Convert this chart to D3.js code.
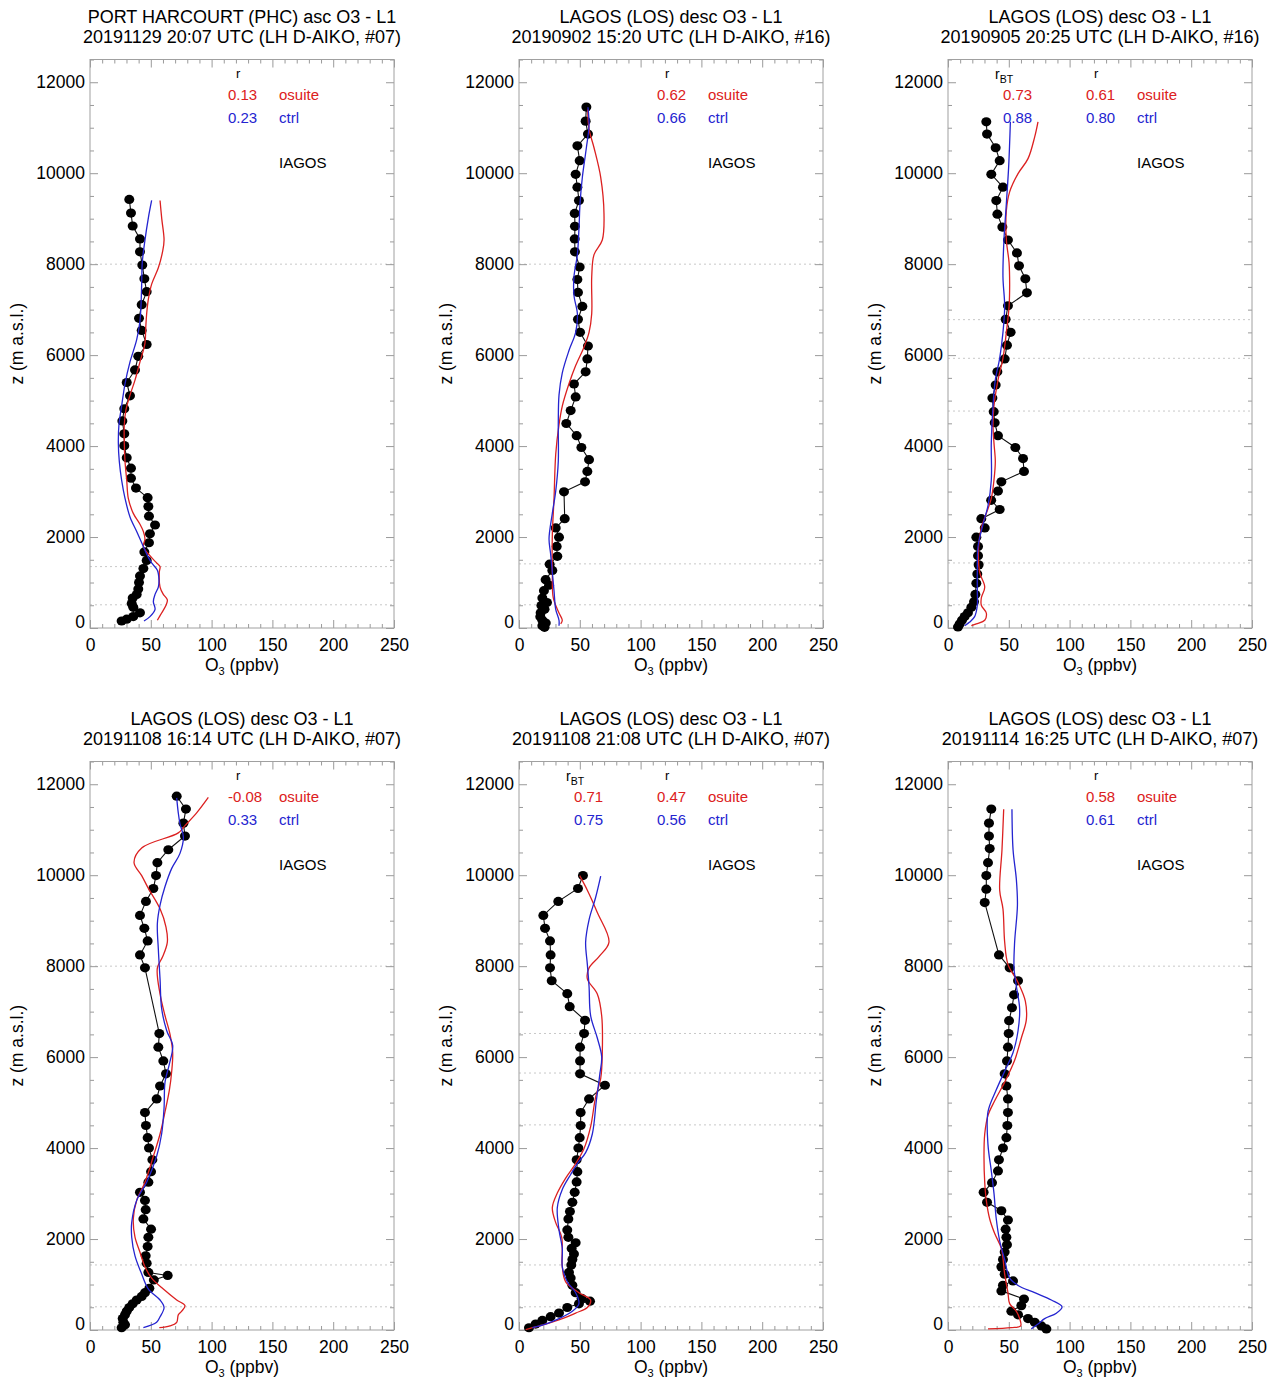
<!DOCTYPE html>
<html>
<head>
<meta charset="utf-8">
<script src="https://cdn.jsdelivr.net/npm/d3@7"></script>
<style>
  html, body { margin: 0; padding: 0; background: #fff; }
  svg { display: block; font-family: "Liberation Sans", Arial, Helvetica, sans-serif; }
</style>
</head>
<body>
<svg id="chart" width="1276" height="1381"></svg>
<script>
// ---- Profile data: [O3 (ppbv), altitude (m a.s.l.)] ----

// Port Harcourt, 2019-11-29 20:07 UTC
const p1Obs = [[32.3,9424],[33.7,9124],[35.1,8839],[41.1,8555],[41.1,8271],[43.0,7979],[44.7,7679],[46.6,7395],[42.5,7110],[40.3,6810],[42.5,6542],[46.6,6234],[39.7,5974],[37.0,5674],[30.2,5398],[32.9,5106],[28.2,4821],[26.6,4554],[28.2,4270],[28.2,4010],[30.2,3742],[33.7,3515],[33.7,3295],[37.8,3076],[47.4,2865],[48.0,2670],[48.5,2459],[53.5,2265],[49.3,2070],[48.5,1875],[44.7,1672],[46.6,1485],[43.9,1307],[41.1,1144],[40.3,998],[39.7,860],[38.4,739],[35.1,657],[34.3,536],[35.6,455],[41.1,333],[35.6,252],[30.2,195],[26.0,154]];
const p1Osuite = [[55.4,170],[58.9,330],[62.5,500],[63.6,620],[60.3,740],[57.6,900],[57.0,1230],[57.6,1350],[54.8,1430],[49.3,1590],[43.9,1790],[45.2,1960],[43.9,2120],[41.1,2280],[35.6,2520],[31.5,2850],[30.2,3250],[28.8,3660],[28.2,4070],[28.2,4470],[29.6,4800],[32.9,5120],[37.0,5450],[41.1,5850],[45.2,6260],[45.8,6580],[46.6,6910],[48.0,7230],[50.7,7560],[56.2,7920],[59.8,8290],[60.9,8530],[59.0,9000],[57.6,9400]];
const p1Ctrl = [[44.4,155],[49.3,250],[53.5,410],[52.1,580],[53.5,740],[56.2,900],[56.7,1060],[55.4,1270],[50.7,1430],[46.6,1630],[42.5,1875],[38.4,2120],[32.9,2440],[28.8,2850],[26.0,3250],[24.1,3660],[23.3,4070],[23.8,4470],[26.0,4880],[28.8,5370],[32.9,5850],[38.4,6340],[41.1,6750],[41.9,7070],[42.5,7560],[43.0,8040],[45.2,8530],[48.0,9020],[50.7,9400]];

// Lagos, 2019-09-02 15:20 UTC
const p2Obs = [[55.4,11453],[54.8,11145],[56.7,10861],[48.0,10601],[49.9,10276],[46.6,9976],[48.0,9692],[49.3,9399],[45.8,9115],[46.0,8831],[45.8,8555],[46.0,8271],[49.9,7938],[48.0,7662],[48.5,7378],[52.1,7070],[48.5,6786],[50.2,6502],[56.7,6201],[56.2,5917],[54.8,5633],[45.2,5365],[46.6,5081],[42.5,4781],[38.9,4497],[47.4,4229],[51.3,3969],[57.6,3701],[56.2,3442],[54.3,3214],[37.0,2995],[37.6,2403],[30.2,2200],[32.9,1997],[31.0,1794],[31.5,1575],[25.2,1404],[27.4,1266],[21.9,1063],[24.7,942],[20.5,820],[19.2,657],[23.0,560],[18.4,495],[21.0,410],[17.8,333],[17.5,250],[19.2,170],[22.0,110],[19.2,50],[21.0,15]];
const p2Osuite = [[34.3,90],[35.6,170],[32.9,330],[28.2,660],[27.4,1230],[27.4,2040],[28.8,2850],[30.2,3820],[32.9,4470],[35.6,4880],[41.1,5370],[46.6,5770],[53.5,6180],[57.6,6500],[59.8,6910],[59.8,7720],[61.7,8210],[68.5,8530],[69.9,9100],[67.2,9910],[61.7,10560],[57.6,10970],[56.5,11400]];
const p2Ctrl = [[32.9,50],[32.9,170],[30.2,410],[28.8,820],[27.4,1230],[26.0,1630],[24.7,1960],[27.4,2520],[30.2,3010],[32.3,3660],[32.3,4470],[32.9,5120],[35.6,5610],[41.1,6100],[46.6,6500],[48.0,6910],[45.2,7310],[45.2,7720],[48.0,8210],[49.3,8770],[50.2,9340],[52.1,9910],[55.4,10560],[57.6,11050],[56.7,11450]];

// Lagos, 2019-09-05 20:25 UTC
const p3Obs = [[31.5,11129],[32.1,10861],[39.2,10560],[42.5,10276],[35.6,9976],[45.2,9692],[39.7,9399],[40.6,9099],[44.7,8815],[49.3,8531],[56.7,8247],[58.4,7963],[63.6,7679],[64.9,7370],[49.3,7086],[47.4,6786],[51.5,6502],[48.5,6218],[46.6,5917],[40.6,5633],[39.2,5341],[36.5,5057],[37.6,4757],[38.4,4513],[41.1,4229],[55.4,3969],[61.7,3726],[62.5,3442],[43.9,3214],[41.1,3011],[35.5,2808],[42.5,2606],[27.4,2403],[30.2,2200],[23.3,1997],[24.7,1794],[24.7,1591],[25.2,1388],[24.1,1185],[23.3,982],[22.5,739],[21.4,576],[19.2,455],[16.4,333],[13.7,252],[11.5,170],[9.6,89],[8.2,24]];
const p3Osuite = [[19.2,50],[23.3,90],[30.2,170],[31.5,330],[27.4,500],[27.4,660],[30.2,900],[26.0,1230],[25.2,1790],[27.4,2200],[31.5,2520],[35.6,2850],[37.8,3250],[38.9,3660],[37.8,4070],[37.0,4470],[37.8,4880],[41.1,5450],[45.2,5930],[48.0,6500],[50.2,7060],[50.7,7550],[50.2,8040],[48.0,8530],[48.0,9180],[50.7,9590],[57.6,9990],[65.8,10320],[71.3,10800],[74.0,11130]];
const p3Ctrl = [[13.7,50],[17.8,130],[21.9,250],[24.1,500],[24.1,820],[24.1,1230],[24.7,1790],[28.8,2280],[32.9,2690],[35.6,3250],[35.6,4070],[37.0,4880],[38.9,5450],[42.5,5930],[45.2,6500],[46.6,7070],[45.2,7720],[46.0,8530],[48.0,9340],[49.9,10150],[51.3,11130]];

// Lagos, 2019-11-08 16:14 UTC
const p4Obs = [[71.3,11737],[78.9,11453],[76.8,11145],[78.1,10861],[64.4,10560],[55.4,10276],[54.3,9992],[52.1,9708],[46.0,9424],[41.1,9115],[44.7,8831],[47.4,8555],[41.1,8247],[45.2,7963],[57.0,6518],[56.2,6218],[60.3,5917],[62.5,5633],[57.6,5365],[54.8,5081],[45.2,4781],[46.0,4497],[47.4,4229],[48.5,4002],[51.3,3742],[50.2,3482],[48.0,3250],[41.1,3028],[45.2,2849],[45.8,2646],[43.9,2443],[50.2,2216],[48.0,2037],[47.4,1834],[45.8,1632],[46.6,1469],[48.0,1266],[63.9,1200],[52.5,1100],[48.8,917],[45.2,820],[42.5,739],[38.4,657],[35.1,576],[32.3,495],[30.2,414],[28.8,333],[26.9,252],[27.4,170],[28.8,114],[26.0,49]];
const p4Osuite = [[57.0,50],[65.8,90],[71.3,170],[72.6,333],[75.4,414],[78.1,536],[71.3,660],[60.3,900],[50.7,1140],[45.2,1390],[41.1,1710],[37.0,2040],[35.6,2440],[38.4,2850],[45.2,3250],[52.1,3820],[57.6,4310],[61.7,4800],[65.3,5280],[67.2,5690],[68.0,6100],[65.8,6500],[61.7,6910],[57.6,7390],[55.4,7960],[59.8,8210],[63.6,8530],[62.5,8860],[57.6,9260],[48.0,9710],[42.5,9990],[36.2,10280],[42.5,10600],[72.6,10930],[78.1,11090],[87.7,11370],[97.3,11710]];
const p4Ctrl = [[43.9,50],[54.8,170],[57.6,290],[60.9,495],[57.6,660],[48.0,900],[42.5,1230],[37.0,1630],[34.3,2040],[34.3,2360],[38.4,2850],[46.6,3250],[54.8,3820],[58.9,4310],[60.9,4880],[61.7,5450],[65.3,5850],[68.0,6260],[63.1,6580],[58.9,7070],[57.6,7720],[56.2,8370],[55.4,8940],[57.6,9340],[61.7,9750],[67.2,10150],[74.0,10480],[76.8,10840],[74.0,11130],[72.6,11370],[71.3,11700]];

// Lagos, 2019-11-08 21:08 UTC
const p5Obs = [[52.6,9992],[48.5,9708],[32.3,9424],[20.0,9115],[21.4,8831],[25.5,8555],[26.0,8247],[25.5,7963],[26.9,7679],[39.7,7395],[41.7,7110],[54.3,6810],[53.5,6518],[50.2,6218],[50.2,5917],[50.2,5633],[70.7,5382],[57.6,5081],[50.7,4781],[50.7,4497],[49.9,4229],[48.8,4002],[47.4,3742],[48.0,3482],[47.4,3255],[45.8,3028],[43.9,2808],[41.9,2606],[40.6,2443],[39.7,2200],[40.6,2037],[46.6,1916],[43.3,1794],[45.2,1672],[43.9,1550],[43.0,1428],[41.1,1266],[42.5,1144],[43.9,982],[46.6,820],[51.5,698],[58.4,633],[49.3,576],[39.7,495],[32.9,373],[26.0,292],[19.2,211],[13.7,130],[8.2,49]];
const p5Osuite = [[5.5,10],[11.0,50],[21.9,130],[35.6,250],[46.6,373],[56.2,495],[58.9,660],[49.3,820],[38.4,1060],[35.6,1390],[35.1,2040],[30.2,2360],[27.4,2690],[31.5,3010],[38.4,3340],[46.6,3660],[53.5,3990],[58.9,4470],[63.0,5120],[67.2,5530],[68.5,6100],[68.0,6910],[64.4,7390],[56.2,7720],[57.6,7960],[65.8,8210],[74.0,8530],[64.4,9180],[56.2,9670],[49.9,9990]];
const p5Ctrl = [[11.0,50],[21.9,130],[32.9,250],[43.9,410],[49.3,580],[46.6,820],[39.7,1060],[35.6,1390],[35.6,1790],[32.9,2200],[31.5,2690],[35.6,3090],[42.5,3420],[48.0,3660],[54.8,3900],[60.3,4310],[63.6,5040],[66.4,5610],[68.0,6010],[64.4,6420],[58.9,6910],[57.6,7560],[56.2,8040],[54.8,8530],[57.6,9020],[63.0,9510],[67.2,9980]];

// Lagos, 2019-11-14 16:25 UTC
const p6Obs = [[35.6,11453],[33.7,11145],[33.7,10861],[34.3,10585],[32.9,10276],[31.5,9992],[31.5,9692],[30.2,9399],[41.9,8247],[50.7,7963],[57.6,7679],[54.3,7370],[52.6,7086],[50.2,6802],[49.9,6518],[49.3,6218],[48.5,5917],[46.6,5633],[48.0,5365],[49.3,5081],[49.3,4781],[48.8,4497],[48.0,4229],[45.2,4002],[41.9,3742],[41.1,3498],[36.2,3239],[29.3,3028],[32.1,2808],[43.9,2622],[49.3,2419],[47.4,2216],[48.0,2037],[48.5,1875],[46.6,1713],[45.2,1550],[43.9,1388],[46.6,1226],[53.5,1080],[45.2,982],[43.9,860],[62.5,682],[60.3,536],[52.1,414],[57.6,333],[65.8,252],[71.3,170],[76.8,89],[80.9,24]];
const p6Osuite = [[32.9,25],[52.1,50],[59.8,90],[58.9,250],[56.2,410],[50.7,580],[49.3,820],[46.6,1230],[43.9,1790],[38.4,2120],[34.3,2440],[31.5,2850],[30.2,3250],[29.6,3820],[30.2,4310],[32.9,4720],[38.4,5040],[46.6,5450],[54.8,5930],[60.3,6420],[64.4,6820],[63.6,7230],[57.6,7640],[49.3,8040],[46.6,8530],[45.2,9260],[42.5,9670],[44.4,10560],[45.8,11450]];
const p6Ctrl = [[68.5,25],[74.0,130],[79.5,250],[89.1,370],[93.8,510],[85.0,660],[71.3,820],[57.6,980],[50.7,1140],[46.6,1550],[42.5,1960],[39.7,2440],[37.8,3010],[35.6,3500],[32.9,4070],[32.9,4800],[39.7,5280],[46.6,5690],[53.5,6100],[57.6,6580],[58.9,7070],[56.2,7560],[54.3,7960],[54.8,8530],[57.1,9340],[56.2,9910],[53.5,10560],[52.6,11450]];

// ---- Panel annotations ----
const titleLine1 = ["PORT HARCOURT (PHC) asc O3 - L1", "LAGOS (LOS) desc O3 - L1", "LAGOS (LOS) desc O3 - L1",
                    "LAGOS (LOS) desc O3 - L1", "LAGOS (LOS) desc O3 - L1", "LAGOS (LOS) desc O3 - L1"];
const titleLine2 = ["20191129 20:07 UTC (LH D-AIKO, #07)", "20190902 15:20 UTC (LH D-AIKO, #16)", "20190905 20:25 UTC (LH D-AIKO, #16)",
                    "20191108 16:14 UTC (LH D-AIKO, #07)", "20191108 21:08 UTC (LH D-AIKO, #07)", "20191114 16:25 UTC (LH D-AIKO, #07)"];
const rOsuite   = ["0.13", "0.62", "0.61", "-0.08", "0.47", "0.58"];
const rCtrl     = ["0.23", "0.66", "0.80", "0.33", "0.56", "0.61"];
const rbtOsuite = ["", "", "0.73", "", "0.71", ""];
const rbtCtrl   = ["", "", "0.88", "", "0.75", ""];
// dotted reference levels (m)
const levels = [[8000, 1350, 510], [8000, 1410, 510], [6780, 5930, 4770, 1430, 510],
                [8000, 1430, 510], [6520, 5650, 4510, 1430, 510], [8000, 1430, 510]];

// ---- Axes ----
const xTicks = [0, 50, 100, 150, 200, 250];
const xMinor = d3.range(0, 251, 10).filter(v => v % 50 !== 0);
const yTicks = [0, 2000, 4000, 6000, 8000, 10000, 12000];
const yMinor = d3.range(0, 12501, 500).filter(v => v % 2000 !== 0);

const obsSets = [p1Obs, p2Obs, p3Obs, p4Obs, p5Obs, p6Obs];
const osuiteSets = [p1Osuite, p2Osuite, p3Osuite, p4Osuite, p5Osuite, p6Osuite];
const ctrlSets = [p1Ctrl, p2Ctrl, p3Ctrl, p4Ctrl, p5Ctrl, p6Ctrl];

const RED = "#dc2020", BLUE = "#2424d0";
const colLeft = [90, 519, 948], rowTop = [59.5, 761.5];
const boxW = 304, boxH = 568.5;

const svg = d3.select("#chart");

obsSets.forEach((obs, i) => {
  const x0 = colLeft[i % 3], y0 = rowTop[Math.floor(i / 3)];
  const x = d3.scaleLinear().domain([0, 250]).range([x0, x0 + boxW]);
  const y = d3.scaleLinear().domain([0, 12500]).range([y0 + boxH, y0]);
  const g = svg.append("g");
  const cx = x0 + boxW / 2;

  // titles
  g.append("text").attr("x", cx).attr("y", y0 - 36.5).attr("text-anchor", "middle")
    .attr("font-size", 18).text(titleLine1[i]);
  g.append("text").attr("x", cx).attr("y", y0 - 16.5).attr("text-anchor", "middle")
    .attr("font-size", 18).text(titleLine2[i]);

  // dotted reference levels
  g.selectAll(".lvl").data(levels[i]).join("line")
    .attr("x1", x0).attr("x2", x0 + boxW)
    .attr("y1", d => y(d)).attr("y2", d => y(d))
    .attr("stroke", "#c8c8c8").attr("stroke-width", 1).attr("stroke-dasharray", "2,3");

  // axes with inward ticks on all four sides
  const tickStyle = sel => {
    sel.select(".domain").remove();
    sel.selectAll(".tick line").attr("stroke", "#9a9a9a");
    sel.selectAll(".tick text").attr("fill", "#000").attr("font-size", 17.5)
      .attr("font-family", "Liberation Sans, Arial, sans-serif");
  };
  g.append("g").attr("transform", `translate(0,${y0 + boxH})`)
    .call(d3.axisBottom(x).tickValues(xTicks).tickSize(-8).tickPadding(11).tickFormat(d3.format("d"))).call(tickStyle);
  g.append("g").attr("transform", `translate(0,${y0 + boxH})`)
    .call(d3.axisBottom(x).tickValues(xMinor).tickSize(-4).tickFormat("")).call(tickStyle);
  g.append("g").attr("transform", `translate(0,${y0})`)
    .call(d3.axisTop(x).tickValues(xTicks).tickSize(-8).tickFormat("")).call(tickStyle);
  g.append("g").attr("transform", `translate(0,${y0})`)
    .call(d3.axisTop(x).tickValues(xMinor).tickSize(-4).tickFormat("")).call(tickStyle);
  const yAx = g.append("g").attr("transform", `translate(${x0},0)`)
    .call(d3.axisLeft(y).tickValues(yTicks).tickSize(-8).tickPadding(5).tickFormat(d3.format("d"))).call(tickStyle);
  yAx.selectAll(".tick text").filter(d => d === 0).attr("y", -6);
  g.append("g").attr("transform", `translate(${x0},0)`)
    .call(d3.axisLeft(y).tickValues(yMinor).tickSize(-4).tickFormat("")).call(tickStyle);
  g.append("g").attr("transform", `translate(${x0 + boxW},0)`)
    .call(d3.axisRight(y).tickValues(yTicks).tickSize(-8).tickFormat("")).call(tickStyle);
  g.append("g").attr("transform", `translate(${x0 + boxW},0)`)
    .call(d3.axisRight(y).tickValues(yMinor).tickSize(-4).tickFormat("")).call(tickStyle);

  g.append("rect").attr("x", x0).attr("y", y0).attr("width", boxW).attr("height", boxH)
    .attr("fill", "none").attr("stroke", "#a0a0a0").attr("stroke-width", 1);

  // axis titles
  const xt = g.append("text").attr("x", cx).attr("y", y0 + boxH + 43).attr("text-anchor", "middle").attr("font-size", 17.5);
  xt.append("tspan").text("O");
  xt.append("tspan").attr("font-size", 11).attr("dy", 4).text("3");
  xt.append("tspan").attr("dy", -4).text(" (ppbv)");
  g.append("text").attr("transform", `translate(${x0 - 67},${y0 + boxH / 2}) rotate(-90)`)
    .attr("text-anchor", "middle").attr("font-size", 17.5).text("z (m a.s.l.)");

  // observed profile: connected dots
  const lin = d3.line().x(d => x(d[0])).y(d => y(d[1]));
  g.append("path").attr("d", lin(obs)).attr("fill", "none").attr("stroke", "#111").attr("stroke-width", 1.1);
  g.selectAll(".obs").data(obs).join("ellipse")
    .attr("cx", d => x(d[0])).attr("cy", d => y(d[1])).attr("rx", 5).attr("ry", 4.6).attr("fill", "#000");

  // model profiles
  const smooth = d3.line().x(d => x(d[0])).y(d => y(d[1])).curve(d3.curveCatmullRom.alpha(0.5));
  g.append("path").attr("d", smooth(osuiteSets[i])).attr("fill", "none").attr("stroke", RED).attr("stroke-width", 1.3);
  g.append("path").attr("d", smooth(ctrlSets[i])).attr("fill", "none").attr("stroke", BLUE).attr("stroke-width", 1.3);

  // correlation legend
  const lg = g.append("g").attr("font-size", 15);
  lg.append("text").attr("x", x0 + 146).attr("y", y0 + 18).attr("font-size", 13).text("r");
  lg.append("text").attr("x", x0 + 138).attr("y", y0 + 40.5).attr("fill", RED).text(rOsuite[i]);
  lg.append("text").attr("x", x0 + 138).attr("y", y0 + 63.5).attr("fill", BLUE).text(rCtrl[i]);
  lg.append("text").attr("x", x0 + 189).attr("y", y0 + 40.5).attr("fill", RED).text("osuite");
  lg.append("text").attr("x", x0 + 189).attr("y", y0 + 63.5).attr("fill", BLUE).text("ctrl");
  lg.append("text").attr("x", x0 + 189).attr("y", y0 + 108.5).attr("fill", "#000").text("IAGOS");
  if (rbtOsuite[i]) {
    const rb = lg.append("text").attr("x", x0 + 47).attr("y", y0 + 19).attr("font-size", 14);
    rb.append("tspan").text("r");
    rb.append("tspan").attr("font-size", 10.5).attr("dy", 4).text("BT");
    lg.append("text").attr("x", x0 + 55).attr("y", y0 + 40.5).attr("fill", RED).text(rbtOsuite[i]);
    lg.append("text").attr("x", x0 + 55).attr("y", y0 + 63.5).attr("fill", BLUE).text(rbtCtrl[i]);
  }
});
</script>
</body>
</html>
